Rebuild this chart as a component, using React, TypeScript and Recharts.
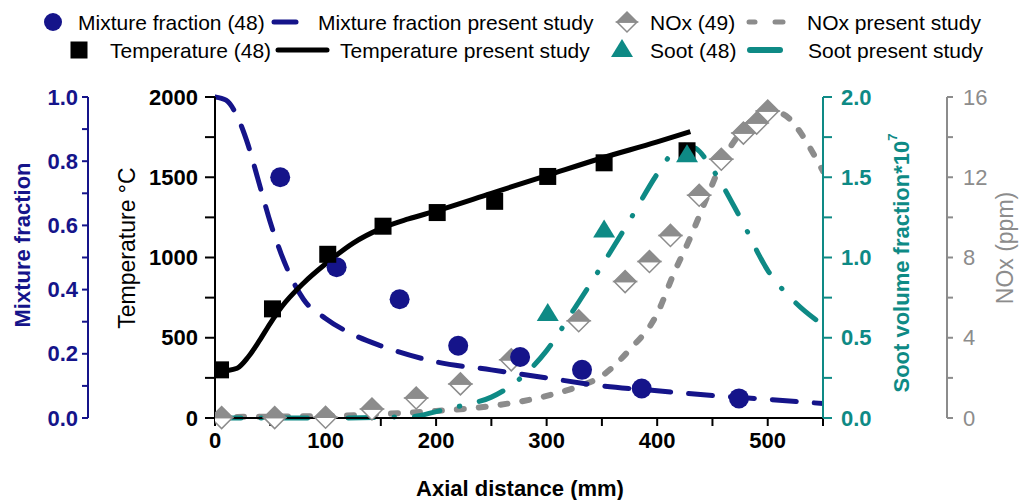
import React from "react";
import { ComposedChart, Line, Scatter, XAxis, YAxis } from "recharts";

document.body.style.margin = "0";

const FONT = '"Liberation Sans", Arial, sans-serif';
const NAVY = "#15148a";
const TEAL = "#0e8a85";
const GRAY = "#8c8c8c";

// experimental points, refs (48) and (49)
const mixX = [59, 110, 167, 220, 276, 332, 386, 474];
const mixVal = [0.75, 0.47, 0.37, 0.225, 0.19, 0.15, 0.092, 0.061];

const tempX = [5, 52, 102, 152, 201, 253, 301, 352, 427];
const tempVal = [300, 680, 1020, 1195, 1280, 1350, 1505, 1590, 1665];

const sootX = [301, 352, 427];
const sootVal = [0.66, 1.18, 1.65];

const noxX = [6, 54, 100, 142, 182, 222, 268, 329, 371, 393, 412, 438, 458, 478, 490, 500];
const noxVal = [0.02, 0.02, 0.04, 0.45, 1.0, 1.7, 2.9, 4.85, 6.8, 7.8, 9.1, 11.1, 12.9, 14.2, 14.7, 15.3];

// present study curves
const mixLineX = [0, 10, 20, 30, 40, 50, 60, 70, 80, 100, 125, 150, 200, 250, 300, 350, 400, 450, 500, 550];
const mixLineVal = [1.0, 0.99, 0.94, 0.85, 0.73, 0.61, 0.51, 0.43, 0.37, 0.31, 0.26, 0.225, 0.175, 0.15, 0.125, 0.1, 0.085, 0.07, 0.058, 0.045];

const tempLineX = [0, 10, 20, 30, 40, 50, 60, 80, 100, 125, 150, 175, 200, 250, 300, 350, 400, 430];
const tempLineVal = [290, 295, 310, 380, 480, 590, 690, 840, 960, 1090, 1180, 1240, 1290, 1400, 1510, 1620, 1720, 1785];

const sootLineX = [0, 100, 180, 200, 225, 250, 275, 300, 325, 350, 375, 400, 415, 425, 435, 450, 475, 500, 525, 550];
const sootLineVal = [0, 0, 0.01, 0.04, 0.08, 0.13, 0.24, 0.42, 0.68, 0.95, 1.23, 1.52, 1.66, 1.7, 1.68, 1.55, 1.25, 0.92, 0.72, 0.58];

const noxLineX = [0, 100, 150, 200, 250, 300, 325, 350, 375, 400, 415, 430, 445, 460, 475, 490, 500, 510, 520, 530, 540, 550];
const noxLineVal = [0.05, 0.1, 0.2, 0.35, 0.6, 1.1, 1.5, 2.1, 3.4, 5.2, 7.2, 9.0, 11.0, 12.9, 14.2, 15.0, 15.2, 15.2, 14.9, 14.2, 13.3, 12.3];

// axis ticks
const xTicks = [0, 50, 100, 150, 200, 250, 300, 350, 400, 450, 500, 550];
const topTicks = [0, 55, 110, 165, 220, 275, 330, 385, 440, 495, 550];
const tempTicks = [0, 250, 500, 750, 1000, 1250, 1500, 1750, 2000];
const mixTicks = [0, 0.1, 0.2, 0.3, 0.4, 0.5, 0.6, 0.7, 0.8, 0.9, 1.0];
const sootTicks = [0, 0.25, 0.5, 0.75, 1.0, 1.25, 1.5, 1.75, 2.0];
const noxTicks = [0, 2, 4, 6, 8, 10, 12, 14, 16];

const zip = (xs: number[], ys: number[], key: string) => xs.map((x, i) => ({ x, [key]: ys[i] }));

const mixPts = zip(mixX, mixVal, "mf");
const tempPts = zip(tempX, tempVal, "T");
const sootPts = zip(sootX, sootVal, "soot");
const noxPts = zip(noxX, noxVal, "nox");
const mixLine = zip(mixLineX, mixLineVal, "mf");
const tempLine = zip(tempLineX, tempLineVal, "T");
const sootLine = zip(sootLineX, sootLineVal, "soot");
const noxLine = zip(noxLineX, noxLineVal, "nox");

// marker shapes
const Circle = ({ cx, cy, r = 10 }: any) => <circle cx={cx} cy={cy} r={r} fill={NAVY} />;
const Square = ({ cx, cy, s = 17 }: any) => (
  <rect x={cx - s / 2} y={cy - s / 2} width={s} height={s} fill="#000" />
);
const Triangle = ({ cx, cy, w = 22, h = 18 }: any) => (
  <polygon
    points={`${cx - w / 2},${cy + h / 2} ${cx + w / 2},${cy + h / 2} ${cx},${cy - h / 2}`}
    fill={TEAL}
  />
);
const Diamond = ({ cx, cy, s = 11 }: any) => (
  <g>
    <polygon points={`${cx - s},${cy} ${cx},${cy + s} ${cx + s},${cy}`} fill="#fff" stroke={GRAY} strokeWidth={1.5} />
    <polygon points={`${cx - s},${cy} ${cx},${cy - s} ${cx + s},${cy}`} fill={GRAY} stroke={GRAY} strokeWidth={1.5} />
  </g>
);

function makeTick(color: string, anchor: "start" | "end", isMajor: (v: number) => boolean, fmt: (v: number) => string, bold = true) {
  return (props: any) => {
    const { x, y, payload } = props;
    const v = payload.value;
    if (!isMajor(v)) return <g />;
    return (
      <text x={x} y={y} dy={7.5} textAnchor={anchor} fill={color} fontSize={22} fontWeight={bold ? "bold" : "normal"} fontFamily={FONT}>
        {fmt(v)}
      </text>
    );
  };
}

const XTick = (props: any) => {
  const { x, y, payload } = props;
  const v = payload.value;
  if (v % 100 !== 0 || v > 500) return <g />;
  return (
    <text x={x} y={y} dy={20} textAnchor="middle" fill="#000" fontSize={22} fontWeight="bold" fontFamily={FONT}>
      {v}
    </text>
  );
};

const VTitle = ({ cx, cy, color, weight, size = 22, text, sup }: any) => (
  <text
    x={cx}
    y={cy}
    transform={`rotate(-90 ${cx} ${cy})`}
    textAnchor="middle"
    dominantBaseline="central"
    fill={color}
    fontSize={size}
    fontWeight={weight}
    fontFamily={FONT}
  >
    {text}
    {sup && (
      <tspan fontSize={13} dy={-9}>
        {sup}
      </tspan>
    )}
  </text>
);

const HTitle = ({ cx, cy, text }: any) => (
  <text x={cx} y={cy} textAnchor="middle" dominantBaseline="central" fill="#000" fontSize={22} fontWeight="bold" fontFamily={FONT}>
    {text}
  </text>
);

function ChartLegend() {
  const txt = { fontSize: 21, fontFamily: FONT, fill: "#000" } as const;
  return (
    <svg width={1019} height={70} style={{ position: "absolute", left: 0, top: 0 }}>
      {/* row 1 */}
      <Circle cx={53} cy={22} r={9} />
      <text x={78} y={30} {...txt}>Mixture fraction (48)</text>
      <line x1={274} x2={296} y1={22} y2={22} stroke={NAVY} strokeWidth={5} strokeLinecap="round" />
      <text x={318} y={30} {...txt}>Mixture fraction present study</text>
      <Diamond cx={627} cy={22} s={10} />
      <text x={650} y={30} {...txt}>NOx (49)</text>
      <line x1={749} x2={755} y1={22} y2={22} stroke={GRAY} strokeWidth={5} strokeLinecap="round" />
      <line x1={775} x2={783} y1={22} y2={22} stroke={GRAY} strokeWidth={5} strokeLinecap="round" />
      <text x={807} y={30} {...txt}>NOx present study</text>
      {/* row 2 */}
      <Square cx={79} cy={50} s={17} />
      <text x={110} y={58} {...txt}>Temperature (48)</text>
      <line x1={278} x2={327} y1={50} y2={50} stroke="#000" strokeWidth={5} strokeLinecap="round" />
      <text x={340} y={58} {...txt}>Temperature present study</text>
      <Triangle cx={622} cy={48} w={22} h={18} />
      <text x={650} y={58} {...txt}>Soot (48)</text>
      <line x1={750} x2={780} y1={50} y2={50} stroke={TEAL} strokeWidth={6} strokeLinecap="round" />
      <text x={808} y={58} {...txt}>Soot present study</text>
    </svg>
  );
}

const axisStyle = (c: string) => ({ stroke: c, strokeWidth: 2 });

// axis ids are named so the inner axis on each side comes first
const ID_T = "y1T";
const ID_MF = "y2mf";
const ID_SOOT = "y3soot";
const ID_NOX = "y4nox";

export default function App() {
  return (
    <div style={{ position: "relative", width: 1019, height: 500, background: "#fff" }}>
      <ComposedChart width={1019} height={500} margin={{ top: 97, right: 0, bottom: 0, left: 0 }}>
        <XAxis
          xAxisId="b"
          type="number"
          dataKey="x"
          domain={[0, 550]}
          ticks={xTicks}
          interval={0}
          height={82}
          tickSize={8}
          axisLine={axisStyle("#000")}
          tickLine={axisStyle("#000")}
          tick={<XTick />}
          allowDataOverflow
          label={<HTitle cx={520} cy={488} text="Axial distance (mm)" />}
        />
        <XAxis
          xAxisId="t"
          orientation="top"
          type="number"
          domain={[0, 550]}
          ticks={topTicks}
          interval={0}
          height={0}
          mirror
          tickSize={7}
          tick={false}
          axisLine={axisStyle("#000")}
          tickLine={axisStyle("#000")}
        />
        <YAxis
          yAxisId={ID_T}
          dataKey="T"
          orientation="left"
          width={127}
          domain={[0, 2000]}
          ticks={tempTicks}
          interval={0}
          tickSize={10}
          tickMargin={7}
          axisLine={axisStyle("#000")}
          tickLine={axisStyle("#000")}
          tick={makeTick("#000", "end", (v) => v % 500 === 0, (v) => String(v))}
          label={<VTitle cx={127} cy={248} color="#000" weight="normal" size={23} text="Temperature °C" />}
        />
        <YAxis
          yAxisId={ID_MF}
          dataKey="mf"
          orientation="left"
          width={88}
          domain={[0, 1]}
          ticks={mixTicks}
          interval={0}
          tickSize={6}
          tickMargin={4}
          axisLine={axisStyle(NAVY)}
          tickLine={axisStyle(NAVY)}
          tick={makeTick(NAVY, "end", (v) => Math.round(v * 10) % 2 === 0, (v) => v.toFixed(1))}
          label={<VTitle cx={22} cy={245} color={NAVY} weight="bold" text="Mixture fraction" />}
        />
        <YAxis
          yAxisId={ID_SOOT}
          dataKey="soot"
          orientation="right"
          width={124}
          domain={[0, 2]}
          ticks={sootTicks}
          interval={0}
          tickSize={9}
          tickMargin={9}
          axisLine={axisStyle(TEAL)}
          tickLine={axisStyle(TEAL)}
          tick={makeTick(TEAL, "start", (v) => Math.round(v * 100) % 50 === 0, (v) => v.toFixed(1))}
          label={<VTitle cx={901} cy={263} color={TEAL} weight="bold" text="Soot volume fraction*10" sup="7" />}
        />
        <YAxis
          yAxisId={ID_NOX}
          dataKey="nox"
          orientation="right"
          width={72}
          domain={[0, 16]}
          ticks={noxTicks}
          interval={0}
          tickSize={6}
          tickMargin={10}
          axisLine={axisStyle(GRAY)}
          tickLine={axisStyle(GRAY)}
          tick={makeTick(GRAY, "start", (v) => v % 4 === 0, (v) => String(v), false)}
          label={<VTitle cx={1005} cy={248} color={GRAY} weight="normal" size={23} text="NOx (ppm)" />}
        />

        <Line xAxisId="b" yAxisId={ID_NOX} data={noxLine} dataKey="nox" type="monotone" stroke={GRAY} strokeWidth={6} strokeDasharray="7 15" strokeLinecap="round" dot={false} isAnimationActive={false} />
        <Line xAxisId="b" yAxisId={ID_SOOT} data={sootLine} dataKey="soot" type="monotone" stroke={TEAL} strokeWidth={5} strokeDasharray="26 20 0.5 20" strokeLinecap="round" dot={false} isAnimationActive={false} />
        <Line xAxisId="b" yAxisId={ID_MF} data={mixLine} dataKey="mf" type="monotone" stroke={NAVY} strokeWidth={5} strokeDasharray="24 18" strokeLinecap="round" dot={false} isAnimationActive={false} />
        <Line xAxisId="b" yAxisId={ID_T} data={tempLine} dataKey="T" type="monotone" stroke="#000" strokeWidth={5} dot={false} isAnimationActive={false} />

        <Scatter xAxisId="b" yAxisId={ID_NOX} data={noxPts} shape={<Diamond />} isAnimationActive={false} />
        <Scatter xAxisId="b" yAxisId={ID_MF} data={mixPts} shape={<Circle />} isAnimationActive={false} />
        <Scatter xAxisId="b" yAxisId={ID_T} data={tempPts} shape={<Square />} isAnimationActive={false} />
        <Scatter xAxisId="b" yAxisId={ID_SOOT} data={sootPts} shape={<Triangle />} isAnimationActive={false} />
      </ComposedChart>
      <ChartLegend />
    </div>
  );
}
